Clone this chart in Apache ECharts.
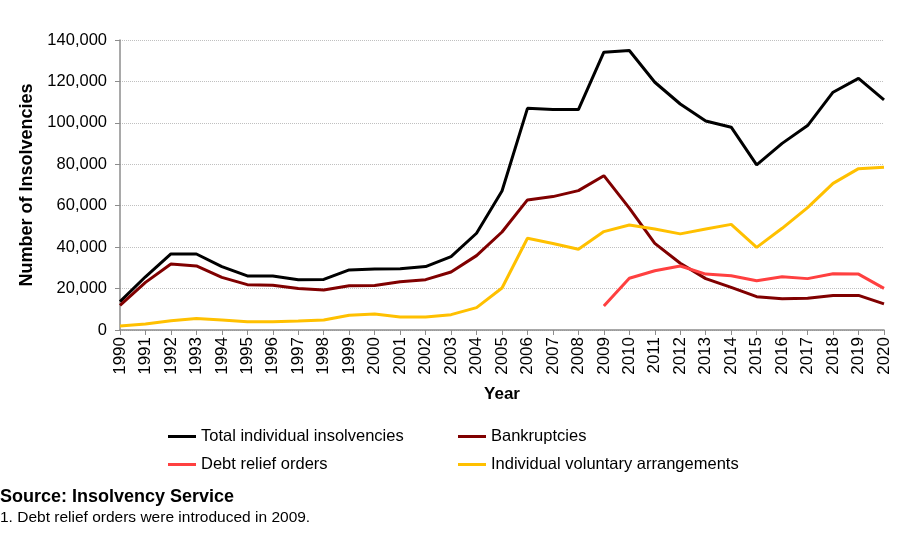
<!DOCTYPE html>
<html>
<head>
<meta charset="utf-8">
<script src="https://cdn.jsdelivr.net/npm/echarts@6/dist/echarts.min.js"></script>
<style>
html,body{margin:0;padding:0;background:#fff;}
#chart{width:908px;height:544px;}
</style>
</head>
<body>
<div id="chart"></div>
<script>
const years = ['1990','1991','1992','1993','1994','1995','1996','1997','1998','1999','2000','2001','2002','2003','2004','2005','2006','2007','2008','2009','2010','2011','2012','2013','2014','2015','2016','2017','2018','2019','2020'];
const totalInsolvencies = [13700,25700,36700,36700,30600,26100,26100,24300,24400,29000,29400,29600,30600,35400,46700,67100,107000,106500,106400,134100,134900,119600,109100,100900,97900,79700,90100,98700,114800,121500,111100];
const bankruptcies = [11900,23000,31900,30900,25400,21900,21600,20000,19300,21400,21500,23300,24300,28000,35900,47300,62800,64400,67300,74500,58800,41800,32200,24800,20600,16100,15100,15300,16600,16700,12600];
const debtReliefOrders = [null,null,null,null,null,null,null,null,null,null,null,null,null,null,null,null,null,null,null,11600,25000,28600,30900,27000,26200,23800,25700,24800,27200,27000,20100];
const ivas = [1900,2900,4500,5600,4800,4000,4000,4300,4800,7100,7700,6300,6300,7400,10800,20300,44300,41800,39000,47500,50700,48800,46400,48800,51000,39900,49100,59100,70800,77900,78600];
const yTicks = [0,20000,40000,60000,80000,100000,120000,140000];

const FONT = 'Liberation Sans, Arial, sans-serif';
const chart = echarts.init(document.getElementById('chart'), null, {renderer:'canvas'});

function mkLine(name, data, color){
  return {name, type:'line', data, symbol:'none', connectNulls:false,
    lineStyle:{color, width:3}, itemStyle:{color}, animation:false};
}
function mkLegend(name, left, top){
  return {data:[{name, icon:'rect'}], left, top, padding:0, itemWidth:28, itemHeight:3, itemGap:0,
    textStyle:{fontFamily:FONT, fontSize:16.5, color:'#000', padding:[0,0,0,0]}, selectedMode:false};
}

chart.setOption({
  animation:false,
  textStyle:{fontFamily:FONT},
  grid:{left:120, right:24, top:40, bottom:214, containLabel:false},
  xAxis:{
    type:'category', data:years, boundaryGap:false,
    name:'Year', nameLocation:'middle', nameGap:56,
    nameTextStyle:{fontFamily:FONT, fontSize:17, fontWeight:'bold', color:'#000'},
    axisLine:{lineStyle:{color:'#8c8c8c', width:1.5}},
    axisTick:{show:true, alignWithLabel:true, length:5, lineStyle:{color:'#8c8c8c'}},
    axisLabel:{rotate:90, interval:0, fontFamily:FONT, fontSize:17, color:'#000', margin:7},
    splitLine:{show:false}
  },
  yAxis:{
    type:'value', min:0, max:140000, interval:20000,
    name:'Number of Insolvencies', nameLocation:'middle', nameGap:72, nameRotate:90,
    nameTextStyle:{fontFamily:FONT, fontSize:18, fontWeight:'bold', color:'#000'},
    axisLine:{show:true, lineStyle:{color:'#8c8c8c', width:1.5}},
    axisTick:{show:true, length:5, lineStyle:{color:'#8c8c8c'}},
    axisLabel:{fontFamily:FONT, fontSize:16.5, color:'#000', margin:13,
      formatter:v => v.toLocaleString('en-US')},
    splitLine:{show:true, lineStyle:{color:'#c0c0c0', type:'dotted', width:1}}
  },
  legend:[
    mkLegend('Total individual insolvencies', 168, 428),
    mkLegend('Bankruptcies', 458, 428),
    mkLegend('Debt relief orders', 168, 456),
    mkLegend('Individual voluntary arrangements', 458, 456)
  ],
  graphic:[
    {type:'text', left:0, top:488, style:{text:'Source: Insolvency Service', font:'bold 18px ' + FONT, fill:'#000'}},
    {type:'text', left:0, top:510, style:{text:'1. Debt relief orders were introduced in 2009.', font:'15.5px ' + FONT, fill:'#000'}}
  ],
  series:[
    mkLine('Total individual insolvencies', totalInsolvencies, '#000000'),
    mkLine('Bankruptcies', bankruptcies, '#800000'),
    mkLine('Debt relief orders', debtReliefOrders, '#ff4040'),
    mkLine('Individual voluntary arrangements', ivas, '#ffc000')
  ]
});
</script>
</body>
</html>
